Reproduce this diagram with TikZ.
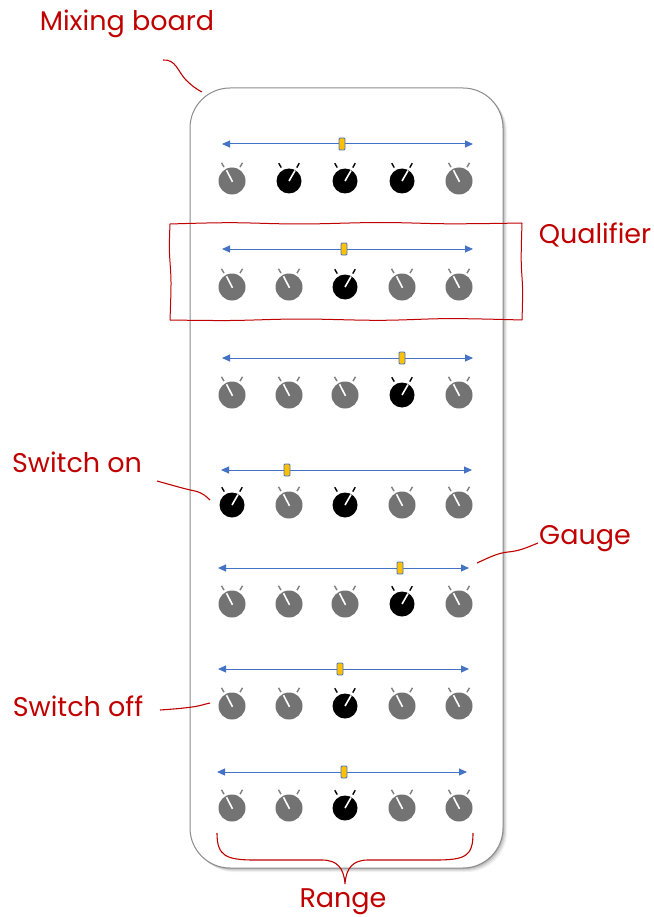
\documentclass[tikz,border=0pt]{standalone}
\usepackage{fontspec}
\newfontfamily\hand{Poppins}
\usetikzlibrary{arrows.meta}
\definecolor{annot}{HTML}{C00000}
\definecolor{railblue}{HTML}{4472C4}
\definecolor{handle}{HTML}{FFC000}
\definecolor{knoboff}{HTML}{737373}
\definecolor{tickoff}{HTML}{7F7F7F}
\definecolor{boardline}{HTML}{8C8C8C}
\begin{document}
\begin{tikzpicture}[x=1pt,y=-1pt,
  annotline/.style={draw=annot, line width=1.1pt},
  lbl/.style={text=annot, font=\hand\fontsize{27}{31}\selectfont, inner sep=0pt},
  knobA/.style={circle, fill=knoboff, minimum size=27pt, inner sep=0pt},
  knobB/.style={circle, fill=black, minimum size=25pt, inner sep=0pt},
  rail/.style={draw=railblue, line width=1pt, {Triangle[length=8pt,width=7pt]}-{Triangle[length=8pt,width=7pt]}},
  grip/.style={draw=railblue, fill=handle, line width=0.8pt, minimum width=6pt, minimum height=12pt, inner sep=0pt, rounded corners=1pt},
  needle/.style={draw=white, line width=1.6pt},
  tickA/.style={draw=tickoff, line width=1.4pt},
  tickB/.style={draw=black, line width=1.4pt}
]
\useasboundingbox (0,0) rectangle (653,917);

% board with soft shadow
\foreach \i/\op in {4/0.05,3/0.07,2/0.09,1/0.12}
  \fill[black, opacity=\op, rounded corners=40pt] (190+\i,88+\i) rectangle (503+\i,868+\i);
\node[draw=boardline, fill=white, line width=1pt, rounded corners=40pt,
      minimum width=313pt, minimum height=780pt, inner sep=0pt] (board) at (346.5,478) {};

% rows: row / slider y / rail left / rail right / handle x / knob y / states
\foreach \r/\sy/\xa/\xb/\hx/\ky/\on in {
  1/144/222/473/342/181/{0,1,1,1,0},
  2/249/222/473/344/287/{0,0,1,0,0},
  3/358/222/473/402/395/{0,0,0,1,0},
  4/470/221/472/287/505/{1,0,1,0,0},
  5/568/218/469/400/604/{0,0,0,1,0},
  6/669/218/469/340/706/{0,0,1,0,0},
  7/772/217/467/344/808/{0,0,1,0,0}}{
  \coordinate (sl\r) at (\xa,\sy);
  \coordinate (sr\r) at (\xb,\sy);
  \draw[rail] (sl\r) -- (sr\r);
  \node[grip] (h\r) at (\hx,\sy) {};
  \foreach \c/\kx in {1/232,2/289,3/345,4/402,5/459}{
    \pgfmathtruncatemacro\st{{\on}[\c-1]}
    \ifnum\st=1
      \node[knobB] (k\r-\c) at (\kx,\ky) {};
      \draw[needle] (k\r-\c.center) -- ([shift={(60:12pt)}]k\r-\c.center);
      \draw[tickB] ([shift={(120:15.5pt)}]k\r-\c.center) -- ([shift={(120:20.5pt)}]k\r-\c.center);
      \draw[tickB] ([shift={(60:15.5pt)}]k\r-\c.center) -- ([shift={(60:20.5pt)}]k\r-\c.center);
    \else
      \node[knobA] (k\r-\c) at (\kx,\ky) {};
      \draw[needle] ([shift={(-60:1pt)}]k\r-\c.center) -- ([shift={(117:12pt)}]k\r-\c.center);
      \draw[tickA] ([shift={(120:16pt)}]k\r-\c.center) -- ([shift={(120:21pt)}]k\r-\c.center);
      \draw[tickA] ([shift={(60:16pt)}]k\r-\c.center) -- ([shift={(60:21pt)}]k\r-\c.center);
    \fi
  }
}

% qualifier frame (hand drawn)
\draw[annotline, line width=1pt] plot[smooth, tension=0.6] coordinates {(170,224) (230,222.7) (300,224) (380,222.5) (450,223.8) (522,223)};
\draw[annotline, line width=1pt] plot[smooth, tension=0.6] coordinates {(522,223) (521.2,260) (522.6,290) (522,320)};
\draw[annotline, line width=1pt] plot[smooth, tension=0.6] coordinates {(522,320) (450,318.6) (380,320.3) (300,319) (230,320.5) (170,320)};
\draw[annotline, line width=1pt] plot[smooth, tension=0.6] coordinates {(170,320) (171,282) (169.4,250) (170,224)};

% labels
\node[lbl] (mix) at (127,24) {Mixing board};
\node[lbl] (qual) at (595,235) {Qualifier};
\node[lbl] (son) at (77,462) {Switch on};
\node[lbl] (gauge) at (585,539) {Gauge};
\node[lbl] (soff) at (78,706) {Switch off};
\node[lbl] (range) at (343,902) {Range};

% leader lines
\coordinate (m1) at (163,60);  \coordinate (m2) at (202,92);
\draw[annotline] (m1) .. controls (176,59) and (178,72) .. (186,80) .. controls (191,85) and (196,89) .. (m2);
\coordinate (on1) at (157,481); \coordinate (on2) at (210,500);
\draw[annotline] (on1) .. controls (175,486) and (185,489) .. (195,491) .. controls (203,493) and (207,497) .. (on2);
\coordinate (g1) at (477,563); \coordinate (g2) at (538,543);
\draw[annotline] (g1) .. controls (490,557) and (498,553) .. (508,552) .. controls (520,551) and (528,547) .. (g2);
\coordinate (of1) at (160,710); \coordinate (of2) at (210,703);
\draw[annotline] (of1) .. controls (175,709) and (185,708) .. (192,707) .. controls (200,706) and (205,704) .. (of2);

% range brace
\coordinate (bl) at (217,833); \coordinate (bt) at (345,884); \coordinate (br) at (473,833);
\draw[annotline] (bl) .. controls (217,856) and (226,860) .. (255,860) -- (322,860)
  .. controls (337,860) and (344,868) .. (bt)
  .. controls (346,868) and (353,860) .. (368,860) -- (435,860)
  .. controls (466,860) and (473,856) .. (br);
\end{tikzpicture}
\end{document}
